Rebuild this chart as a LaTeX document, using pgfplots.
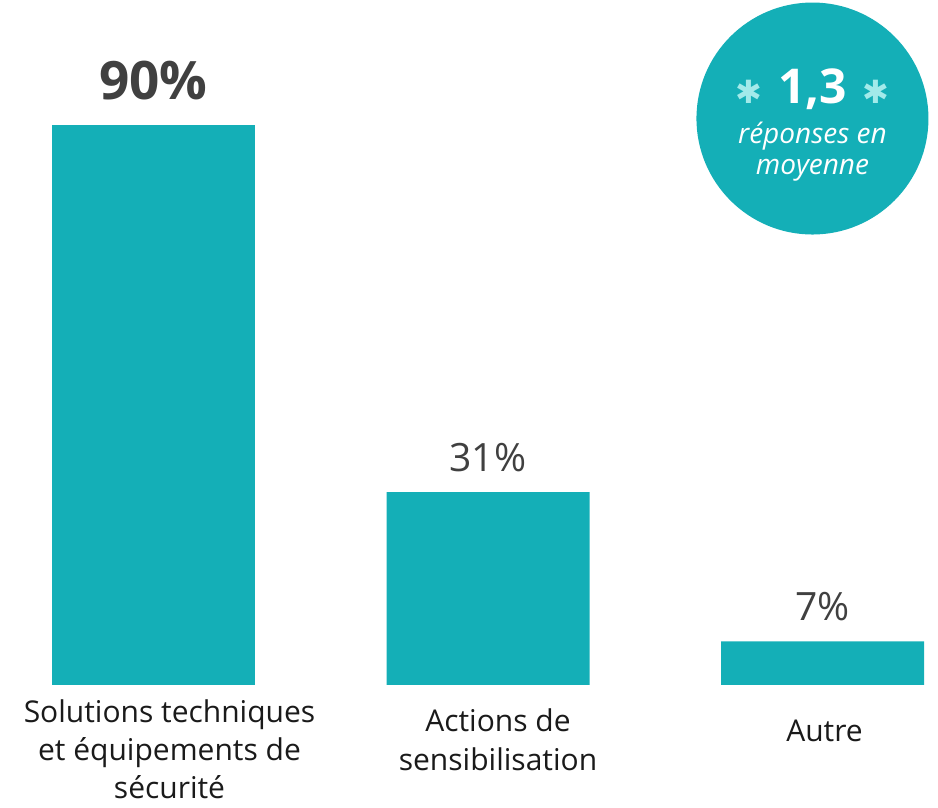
\documentclass[border=0pt]{standalone}
\usepackage{pgfplots}
\pgfplotsset{compat=1.18}
\usepackage{fontspec}
\setmainfont{Open Sans}
\newfontfamily\symfont{DejaVu Sans}
\definecolor{barteal}{HTML}{14AFB7}
\definecolor{startint}{HTML}{A2EAEA}
\definecolor{valgray}{HTML}{404040}
\definecolor{catblack}{HTML}{1A1A1A}
\begin{document}
\begin{tikzpicture}
\begin{axis}[
    scale only axis,
    width=469pt, height=404pt,
    xmin=-0.4589, xmax=2.3453,
    ymin=-19.77, ymax=110.1,
    clip=false,
    axis line style={draw=none},
    tick style={draw=none},
    ytick=\empty,
    xtick={0,1,2},
    xticklabels={
        {\hspace*{16pt}\begin{tabular}{@{}c@{}}Solutions techniques\\[0.3pt]et équipements de\\[0.3pt]sécurité\end{tabular}},
        {\hspace*{10pt}\begin{tabular}{@{}c@{}}\rule{0pt}{18pt}Actions de\\[0.7pt]sensibilisation\end{tabular}},
        {\hspace*{2pt}\begin{tabular}{@{}c@{}}\rule{0pt}{23pt}Autre\end{tabular}}
    },
    xticklabel style={anchor=north, yshift=60.5pt, inner sep=0pt,
        font=\fontsize{15}{18.8}\selectfont, text=catblack},
    ybar,
    bar width=101.5pt,
    point meta=y,
]
\addplot[fill=barteal, draw=none, bar shift=0pt,
    nodes near coords={\pgfmathprintnumber[assume math mode=true]{\pgfplotspointmeta}\%},
    nodes near coords style={anchor=south, inner sep=0pt, yshift=12.5pt,
        font=\bfseries\fontsize{26.5}{26.5}\selectfont, text=valgray}]
    coordinates {(0,90)};
\addplot[fill=barteal, draw=none, bar shift=0pt,
    nodes near coords={\pgfmathprintnumber[assume math mode=true]{\pgfplotspointmeta}\%},
    nodes near coords style={anchor=south, inner sep=0pt, yshift=10pt,
        font=\fontsize{19.5}{19.5}\selectfont, text=valgray}]
    coordinates {(1,31) (2,7)};
% badge
\fill[barteal] (axis cs:1.970,91.05) circle[radius=58pt];
\node[text=white, inner sep=0pt] at (axis cs:1.970,95.8)
    {{\color{startint}\symfont\fontsize{16}{16}\selectfont ✱}\hspace{8pt}{\bfseries\fontsize{24}{24}\selectfont 1,3}\hspace{8pt}{\color{startint}\symfont\fontsize{16}{16}\selectfont ✱}};
\node[text=white, inner sep=0pt, align=center, font=\itshape\fontsize{14}{15.5}\selectfont]
    at (axis cs:1.970,85.8) {réponses en\\moyenne};
\end{axis}
\pgfresetboundingbox
\useasboundingbox (current axis.south west) rectangle (current axis.north east);
\end{tikzpicture}
\end{document}
